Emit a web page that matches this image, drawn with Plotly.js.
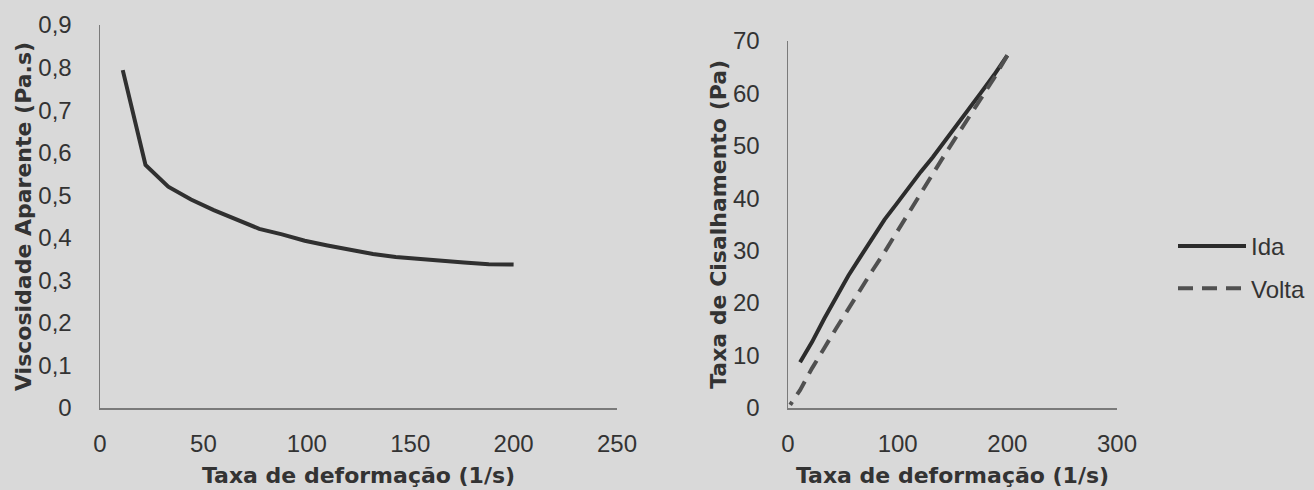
<!DOCTYPE html>
<html>
<head>
<meta charset="utf-8">
<script src="https://cdn.plot.ly/plotly-3.0.1.min.js"></script>
<style>
html,body{margin:0;padding:0;background:#d9d9d9;}
#chart{width:1314px;height:490px;}
</style>
</head>
<body>
<div id="chart"></div>
<script>
// Left chart: apparent viscosity vs shear rate
const taxaIda = [11,22,33,44,55,66,77,88,99,110,121,132,143,154,165,176,188,200];
const viscosidade = [0.794,0.571,0.520,0.490,0.465,0.443,0.421,0.408,0.393,0.382,0.372,0.362,0.355,0.350,0.346,0.342,0.338,0.337];
// Right chart: shear stress, up (Ida) and down (Volta)
const tensaoIda = [8.7,12.6,17.0,21.2,25.2,28.8,32.4,35.9,38.9,42.0,45.0,47.8,50.8,53.9,57.0,60.1,63.5,67.2];
const taxaVolta = [200,188,176,165,154,143,132,121,110,99,88,77,66,55,44,33,22,11,2];
const tensaoVolta = [67.2,62.9,59.0,55.5,52.0,48.3,44.6,40.8,37.0,33.3,29.7,26.2,22.6,19.0,15.2,11.4,7.6,3.4,0.6];
// Tick labels
const xTicksLeft = [0,50,100,150,200,250];
const yTicksLeft = [0,0.1,0.2,0.3,0.4,0.5,0.6,0.7,0.8,0.9];
const yTickTextLeft = ['0','0,1','0,2','0,3','0,4','0,5','0,6','0,7','0,8','0,9'];
const xTicksRight = [0,100,200,300];
const yTicksRight = [0,10,20,30,40,50,60,70];

const W = 1314, H = 490;
const tickFont = {family: 'Liberation Sans, Arial, sans-serif', size: 24, color: '#333333'};
const titleFont = {family: 'DejaVu Sans, sans-serif', size: 22, weight: 'bold', color: '#333333'};
const axisLine = '#7a7a7a';

function xAx(domain, range, vals, anchor) {
  return {
    domain: domain, range: range, anchor: anchor,
    tickvals: vals, ticks: '', showgrid: false, zeroline: false,
    showline: true, linecolor: axisLine, linewidth: 1.5,
    tickfont: tickFont, ticklabelstandoff: 14, automargin: false, fixedrange: true,
    title: {text: 'Taxa de deformação (1/s)', font: titleFont, standoff: 11}
  };
}
function yAx(domain, range, vals, text, title, anchor) {
  const a = {
    domain: domain, range: range, anchor: anchor,
    tickvals: vals, ticks: '', showgrid: false, zeroline: false,
    showline: true, linecolor: axisLine, linewidth: 1.5,
    tickfont: tickFont, ticklabelstandoff: 22, automargin: false, fixedrange: true,
    title: {text: title, font: titleFont, standoff: 0}
  };
  if (text) a.ticktext = text;
  return a;
}

const data = [
  {x: taxaIda, y: viscosidade, xaxis: 'x', yaxis: 'y', type: 'scatter', mode: 'lines',
   line: {color: '#303030', width: 4}, showlegend: false, hoverinfo: 'skip'},
  {x: taxaIda, y: tensaoIda, xaxis: 'x2', yaxis: 'y2', type: 'scatter', mode: 'lines', name: 'Ida',
   legendgroup: 'a', line: {color: '#2c2c2c', width: 4}, hoverinfo: 'skip'},
  {x: taxaVolta, y: tensaoVolta, xaxis: 'x2', yaxis: 'y2', type: 'scatter', mode: 'lines', name: 'Volta',
   legendgroup: 'b', line: {color: '#505050', width: 4, dash: '15px,9px'}, hoverinfo: 'skip'}
];

const layout = {
  width: W, height: H,
  margin: {l: 0, r: 0, t: 0, b: 0},
  paper_bgcolor: '#d9d9d9', plot_bgcolor: '#d9d9d9',
  xaxis: xAx([100/W, 617/W], [0, 250], xTicksLeft, 'y'),
  yaxis: yAx([1-408/H, 1-25/H], [0, 0.9], yTicksLeft, yTickTextLeft, 'Viscosidade Aparente (Pa.s)', 'x'),
  xaxis2: xAx([788/W, 1117/W], [0, 300], xTicksRight, 'y2'),
  yaxis2: yAx([1-408/H, 1-40.7/H], [0, 70], yTicksRight, null, 'Taxa de Cisalhamento (Pa)', 'x2'),
  legend: {x: 1173/W, y: 1-224/H, xanchor: 'left', yanchor: 'top',
           bgcolor: 'rgba(0,0,0,0)', font: {family: 'Liberation Sans, Arial, sans-serif', size: 24, color: '#333333'},
           traceorder: 'grouped', tracegroupgap: 8, itemwidth: 68},
  showlegend: true
};

Plotly.newPlot('chart', data, layout, {displayModeBar: false, staticPlot: true});
</script>
</body>
</html>
